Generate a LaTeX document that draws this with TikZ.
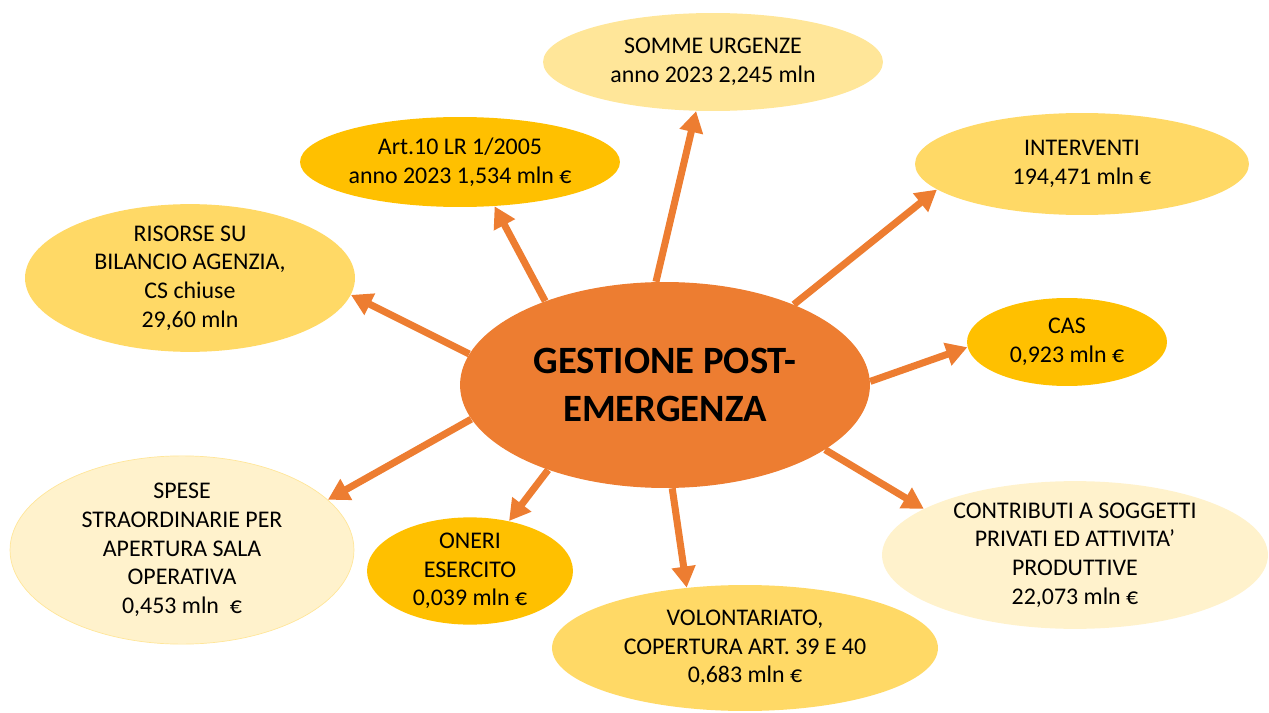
\documentclass[tikz,border=0pt]{standalone}
\usepackage{fontspec}
\setmainfont{Carlito}
\usepackage{xcolor}
\definecolor{hub}{HTML}{ED7D31}
\definecolor{gold}{HTML}{FFC000}
\definecolor{goldmid}{HTML}{FFD966}
\definecolor{goldlight}{HTML}{FFE699}
\definecolor{goldpale}{HTML}{FFF2CC}
\usepackage{tikz}
\usetikzlibrary{positioning, arrows.meta, shapes.geometric}
\tikzset{
    bub/.style 2 args = {ellipse, inner sep=0pt, align=center,
                         minimum width=#1, minimum height=#2,
                         font=\fontsize{13.6}{16.3}\selectfont},
    hubnode/.style = {ellipse, fill=hub, inner sep=0pt, align=center,
                      minimum width=8.2cm, minimum height=4.12cm,
                      font=\fontsize{22}{27.5}\selectfont\bfseries},
    arrow/.style = {-{Triangle[length=12pt, width=13pt]}, line width=4pt, color=hub},
}

\begin{document}
\begin{tikzpicture}[x=0.02cm, y=-0.02cm]
        \useasboundingbox (0,0) rectangle (1269,713);
        % centre
        \node[hubnode] (ctr) at (665,385) {GESTIONE POST-\\EMERGENZA};
        % upper half
        \node[bub={6.8cm}{1.96cm}, fill=goldlight] (somme) at (713,62)
              {SOMME URGENZE\\anno 2023 2,245 mln};
        \node[bub={6.4cm}{1.8cm}, fill=gold] (art) at (460,162)
              {Art.10 LR 1/2005\\anno 2023 1,534 mln €};
        \node[bub={6.6cm}{2.88cm}, fill=goldmid] (risorse) at (190,278)
              {RISORSE SU\\BILANCIO AGENZIA,\\CS chiuse\\29,60 mln};
        \node[bub={6.68cm}{2.04cm}, fill=goldmid] (interventi) at (1082,164)
              {INTERVENTI\\194,471 mln €};
        \node[bub={4cm}{1.76cm}, fill=gold] (cas) at (1067,342)
              {CAS\\0,923 mln €};
        % lower half
        \node[bub={7.72cm}{2.8cm}, fill=goldpale] (contributi) at (1075,555)
              {CONTRIBUTI A SOGGETTI\\PRIVATI ED ATTIVITA’\\PRODUTTIVE\\22,073 mln €};
        \node[bub={7.72cm}{2.52cm}, fill=goldmid] (volont) at (745,648)
              {VOLONTARIATO,\\COPERTURA ART. 39 E 40\\0,683 mln €};
        \node[bub={4.12cm}{1.96cm}, fill=gold] (oneri) at (470,571)
              {ONERI\\ESERCITO\\0,039 mln €};
        \node[bub={6.88cm}{3.0cm}, fill=goldpale, draw=goldlight] (spese) at (182,550)
              {SPESE\\STRAORDINARIE PER\\APERTURA SALA\\OPERATIVA\\0,453 mln~~€};
        % arrows
        \draw[arrow] (ctr.95) -- (somme.251);
        \draw[arrow] (ctr.145) -- (art.308);
        \draw[arrow] (ctr.171) -- (risorse.354);
        \draw[arrow] (ctr.32) -- (interventi.190);
        \draw[arrow] (ctr.1) -- (cas.183);
        \draw[arrow] (ctr.-22) -- (contributi.163);
        \draw[arrow] (ctr.-86) -- (volont.134);
        \draw[arrow] (ctr.216) -- (oneri.52);
        \draw[arrow] (ctr.190) -- (spese.19);
\end{tikzpicture}
\end{document}
